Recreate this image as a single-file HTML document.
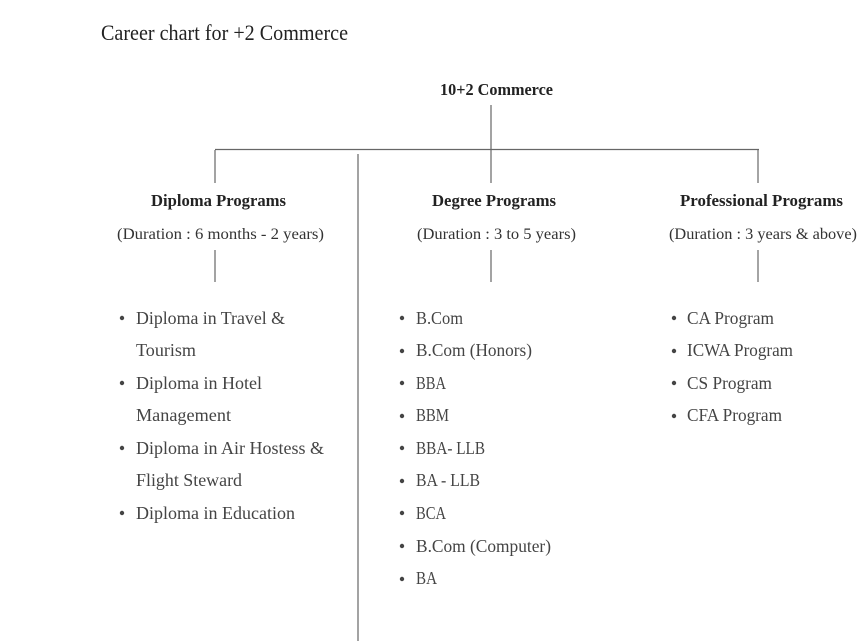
<!DOCTYPE html>
<html><head><meta charset="utf-8"><style>
html,body{margin:0;padding:0;background:#fff;width:865px;height:641px;overflow:hidden}
svg{display:block}
text{font-family:"Liberation Serif",serif}
.h{font-weight:bold;fill:#222;font-size:17px}
.d{fill:#333;font-size:16px}
.l{fill:#444;font-size:18px}
</style></head><body>
<svg width="865" height="641" viewBox="0 0 865 641" xmlns="http://www.w3.org/2000/svg">
<g stroke="#666" stroke-width="1.2" fill="none">
<line x1="491" y1="105" x2="491" y2="183"/>
<line x1="215" y1="149.5" x2="759" y2="149.5"/>
<line x1="215" y1="150" x2="215" y2="183"/>
<line x1="758" y1="150" x2="758" y2="183"/>
<line x1="358" y1="154" x2="358" y2="641"/>
<line x1="215" y1="250" x2="215" y2="282"/>
<line x1="491" y1="250" x2="491" y2="282"/>
<line x1="758" y1="250" x2="758" y2="282"/>
</g>
<text x="101" y="40" font-size="22" fill="#222" textLength="247" lengthAdjust="spacingAndGlyphs">Career chart for +2 Commerce</text>
<text class="h" x="440" y="95" textLength="113" lengthAdjust="spacingAndGlyphs">10+2 Commerce</text>
<text class="h" x="151" y="206" textLength="135" lengthAdjust="spacingAndGlyphs">Diploma Programs</text>
<text class="h" x="432" y="206" textLength="124" lengthAdjust="spacingAndGlyphs">Degree Programs</text>
<text class="h" x="680" y="206" textLength="163" lengthAdjust="spacingAndGlyphs">Professional Programs</text>
<text class="d" x="117" y="239" textLength="207" lengthAdjust="spacingAndGlyphs">(Duration : 6 months - 2 years)</text>
<text class="d" x="417" y="239" textLength="159" lengthAdjust="spacingAndGlyphs">(Duration : 3 to 5 years)</text>
<text class="d" x="669" y="239" textLength="188" lengthAdjust="spacingAndGlyphs">(Duration : 3 years &amp; above)</text>
<g fill="#444">
<circle cx="122" cy="318" r="2.2"/><circle cx="122" cy="383" r="2.2"/><circle cx="122" cy="448" r="2.2"/><circle cx="122" cy="513" r="2.2"/>
<circle cx="402" cy="318" r="2.2"/><circle cx="402" cy="351" r="2.2"/><circle cx="402" cy="383" r="2.2"/><circle cx="402" cy="416" r="2.2"/><circle cx="402" cy="448" r="2.2"/><circle cx="402" cy="481" r="2.2"/><circle cx="402" cy="513" r="2.2"/><circle cx="402" cy="546" r="2.2"/><circle cx="402" cy="579" r="2.2"/>
<circle cx="674" cy="318" r="2.2"/><circle cx="674" cy="351" r="2.2"/><circle cx="674" cy="383" r="2.2"/><circle cx="674" cy="416" r="2.2"/>
</g>
<g class="l">
<text class="l" x="136" y="324" textLength="149" lengthAdjust="spacingAndGlyphs">Diploma in Travel &amp;</text>
<text class="l" x="136" y="356" textLength="60" lengthAdjust="spacingAndGlyphs">Tourism</text>
<text class="l" x="136" y="389" textLength="126" lengthAdjust="spacingAndGlyphs">Diploma in Hotel</text>
<text class="l" x="136" y="421" textLength="95" lengthAdjust="spacingAndGlyphs">Management</text>
<text class="l" x="136" y="454" textLength="188" lengthAdjust="spacingAndGlyphs">Diploma in Air Hostess &amp;</text>
<text class="l" x="136" y="486" textLength="106" lengthAdjust="spacingAndGlyphs">Flight Steward</text>
<text class="l" x="136" y="519" textLength="159" lengthAdjust="spacingAndGlyphs">Diploma in Education</text>

<text class="l" x="416" y="324" textLength="47" lengthAdjust="spacingAndGlyphs">B.Com</text>
<text class="l" x="416" y="356" textLength="116" lengthAdjust="spacingAndGlyphs">B.Com (Honors)</text>
<text class="l" x="416" y="389" textLength="30" lengthAdjust="spacingAndGlyphs">BBA</text>
<text class="l" x="416" y="421" textLength="33" lengthAdjust="spacingAndGlyphs">BBM</text>
<text class="l" x="416" y="454" textLength="69" lengthAdjust="spacingAndGlyphs">BBA- LLB</text>
<text class="l" x="416" y="486" textLength="64" lengthAdjust="spacingAndGlyphs">BA - LLB</text>
<text class="l" x="416" y="519" textLength="30" lengthAdjust="spacingAndGlyphs">BCA</text>
<text class="l" x="416" y="552" textLength="135" lengthAdjust="spacingAndGlyphs">B.Com (Computer)</text>
<text class="l" x="416" y="584" textLength="21" lengthAdjust="spacingAndGlyphs">BA</text>

<text class="l" x="687" y="324" textLength="87" lengthAdjust="spacingAndGlyphs">CA Program</text>
<text class="l" x="687" y="356" textLength="106" lengthAdjust="spacingAndGlyphs">ICWA Program</text>
<text class="l" x="687" y="389" textLength="85" lengthAdjust="spacingAndGlyphs">CS Program</text>
<text class="l" x="687" y="421" textLength="95" lengthAdjust="spacingAndGlyphs">CFA Program</text>
</g>
</svg>
</body></html>
